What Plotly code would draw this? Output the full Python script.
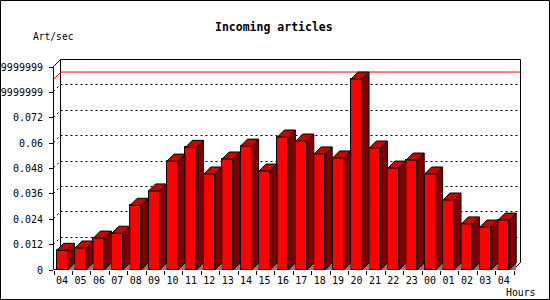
import plotly.graph_objects as go

# ---------------- data ----------------
hours = ["04", "05", "06", "07", "08", "09", "10", "11", "12", "13", "14", "15",
         "16", "17", "18", "19", "20", "21", "22", "23", "00", "01", "02", "03", "04"]
rates = [0.0093, 0.0104, 0.0151, 0.0174, 0.0306, 0.0374, 0.0515, 0.0580, 0.0454,
         0.0525, 0.0586, 0.0468, 0.0629, 0.0610, 0.0549, 0.0530, 0.0903, 0.0577,
         0.0482, 0.0520, 0.0454, 0.0331, 0.0218, 0.0203, 0.0236]
ytick_vals = [0, 0.012, 0.024, 0.036, 0.048, 0.06, 0.072, 0.084, 0.096]
ytick_text = ["0", "0.012", "0.024", "0.036", "0.048", "0.06", "0.072",
              "0.0839999999", "0.0959999999"]
title_text = "Incoming articles"
y_title = "Art/sec"
x_title = "Hours"

# ---------------- geometry / style ----------------
W, H = 550, 300
ML, MR, MT, MB = 54, 29, 60, 30
PW, PH = W - ML - MR, H - MT - MB
SLOT = 18.4                      # px per category
PPU = 203 / ytick_vals[-1]       # px per unit
DXP, DYP = 7, 7                  # 3D depth in px
dx, dy = DXP / SLOT, DYP / PPU
OFF, BW = 2.6 / SLOT, 11.0 / SLOT
n = len(rates)
idx = list(range(n))
xr = [-0.5, -0.5 + PW / SLOT]
yr = [0, PH / PPU]
FONT = "DejaVu Sans Mono"
FRONT, TOP, SIDE, SHADOW = "#ff0000", "#cc0000", "#800000", "#808080"


def xpaper(x):
    px = ML + (x - xr[0]) / (xr[1] - xr[0]) * PW
    px = round(px) - 0.5
    return (px - ML) / PW


def ypaper(y):
    py = MT + PH - y / yr[1] * PH
    py = round(py) - 0.5
    return (MT + PH - py) / PH


def seg(x0, y0, x1, y1, color="black", dash="solid"):
    return dict(type="line", xref="paper", yref="paper",
                x0=xpaper(x0), y0=ypaper(y0), x1=xpaper(x1), y1=ypaper(y1),
                line=dict(color=color, width=1, dash=dash), layer="below")


def poly_trace(polys, color, outline=True):
    xs, ys = [], []
    for p in polys:
        for a, b in p:
            xs.append(a)
            ys.append(b)
        xs.append(p[0][0])
        ys.append(p[0][1])
        xs.append(None)
        ys.append(None)
    return go.Scatter(x=xs, y=ys, mode="lines" if outline else "none",
                      fill="toself", fillcolor=color,
                      line=dict(color="black", width=1 if outline else 0),
                      hoverinfo="skip", showlegend=False)


fig = go.Figure()

x_left, x_right = -0.5, n - 0.5
ytop = ytick_vals[-1]
vmax = max(rates)

# front faces
fig.add_trace(go.Bar(x=idx, y=rates, width=BW, offset=-0.5 + OFF,
                     marker=dict(color=FRONT, line=dict(color="black", width=1)),
                     hoverinfo="skip", showlegend=False))

# max line (on left wall + back wall)
fig.add_trace(go.Scatter(x=[x_left, x_left + dx, x_right + dx],
                         y=[vmax, vmax + dy, vmax + dy], mode="lines",
                         line=dict(color="#ff0000", width=1),
                         hoverinfo="skip", showlegend=False, cliponaxis=False))

shadows, tops, sides = [], [], []
for i, v in zip(idx, rates):
    xl = i - 0.5 + OFF
    xrr = xl + BW
    shadows.append([(xrr, 0), (xrr + dx, 0), (xrr + dx, dy)])
    tops.append([(xl, v), (xrr, v), (xrr + dx, v + dy), (xl + dx, v + dy)])
    sides.append([(xrr, 0), (xrr + dx, dy), (xrr + dx, v + dy), (xrr, v)])
fig.add_trace(poly_trace(shadows, SHADOW, outline=False))
fig.add_trace(poly_trace(sides, SIDE))
fig.add_trace(poly_trace(tops, TOP))

shapes = []
# dotted gridlines on back wall + left wall
for tv in ytick_vals[1:-1]:
    shapes.append(seg(x_left, tv, x_left + dx, tv + dy, dash="2px,3px"))
    shapes.append(seg(x_left + dx, tv + dy, x_right + dx, tv + dy, dash="2px,3px"))
# frame
shapes.append(seg(x_left, 0, x_left, ytop))
shapes.append(seg(x_left, 0, x_right, 0))
shapes.append(seg(x_left, ytop, x_left + dx, ytop + dy))
shapes.append(seg(x_left + dx, dy, x_left + dx, ytop + dy))
shapes.append(seg(x_left + dx, ytop + dy, x_right + dx, ytop + dy))
shapes.append(seg(x_right + dx, ytop + dy, x_right + dx, dy))
shapes.append(seg(x_right + dx, dy, x_right, 0))
# outer border
shapes.append(dict(type="rect", xref="paper", yref="paper",
                   x0=(0.5 - ML) / PW, x1=(W - 0.5 - ML) / PW,
                   y0=(MT + PH - (H - 0.5)) / PH, y1=(MT + PH - 0.5) / PH,
                   line=dict(color="black", width=1), layer="below"))


def ann(text, px, py, size, xanchor="left"):
    return dict(text=text, xref="paper", yref="paper",
                x=(px - ML) / PW, y=(MT + PH - py) / PH,
                xanchor=xanchor, yanchor="middle", showarrow=False,
                font=dict(family=FONT, size=size, color="black"))


label_pos = [i - 0.5 + OFF + BW / 2 for i in idx]
boundaries = [k - 0.5 for k in range(n + 1)]

fig.update_layout(
    template="none",
    width=W, height=H,
    margin=dict(l=ML, r=MR, t=MT, b=MB, pad=0),
    paper_bgcolor="white", plot_bgcolor="rgba(0,0,0,0)",
    showlegend=False,
    bargap=0,
    xaxis=dict(range=xr, showgrid=False, zeroline=False, showline=False,
               automargin=False, fixedrange=True,
               tickmode="array", tickvals=label_pos, ticktext=hours,
               ticks="outside", ticklen=1, tickcolor="rgba(0,0,0,0)",
               tickfont=dict(family=FONT, size=10, color="black"),
               minor=dict(tickmode="array", tickvals=boundaries, ticks="outside",
                          ticklen=4, tickcolor="black", tickwidth=1, showgrid=False)),
    yaxis=dict(range=yr, showgrid=False, zeroline=False, showline=False,
               automargin=False, fixedrange=True,
               tickmode="array", tickvals=ytick_vals, ticktext=ytick_text,
               ticks="outside", ticklen=4, tickcolor="black", tickwidth=1,
               ticklabelstandoff=4,
               tickfont=dict(family=FONT, size=10, color="black")),
    shapes=shapes,
    annotations=[
        ann("<b>" + title_text + "</b>", 274, 27, 11.5, xanchor="center"),
        ann(y_title, 31, 37, 9.6),
        ann(x_title, 504, 292, 9.8),
    ],
)

fig.write_html("out.html")
